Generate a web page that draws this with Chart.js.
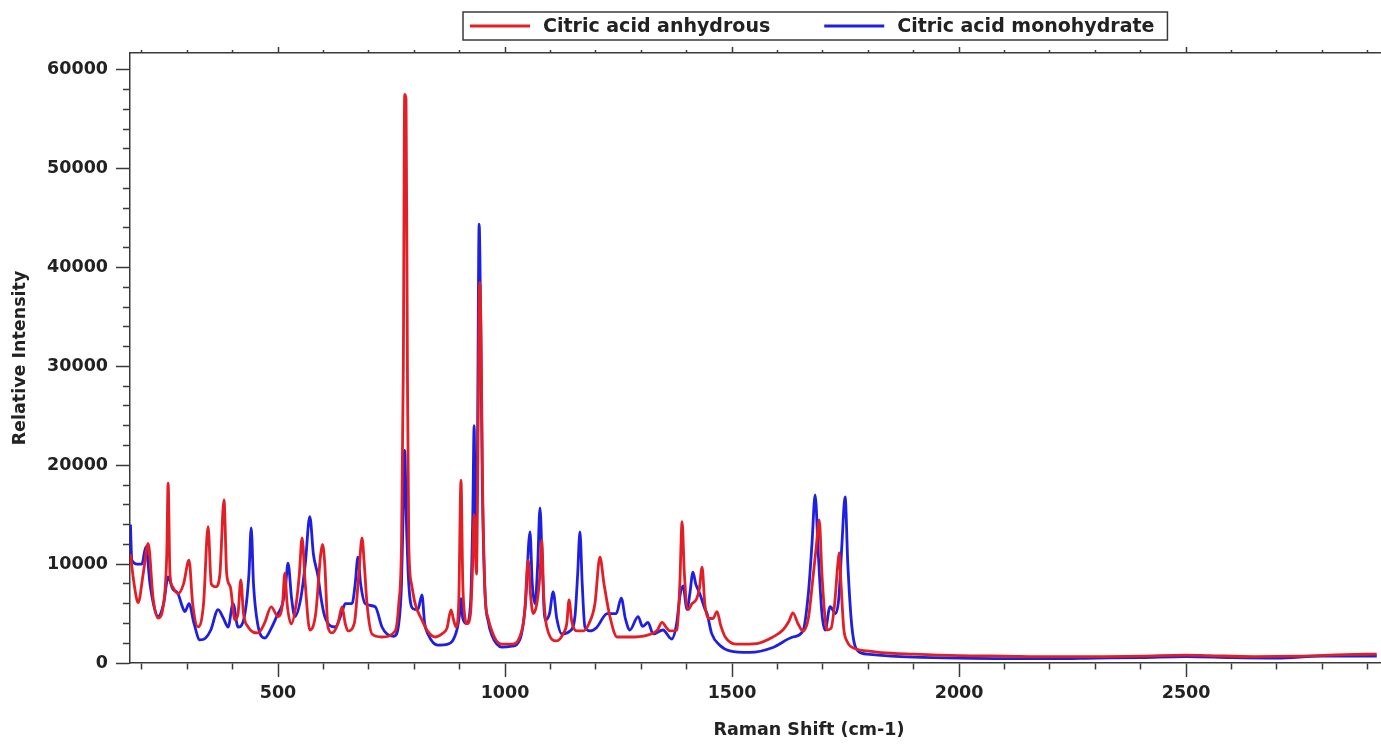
<!DOCTYPE html>
<html>
<head>
<meta charset="utf-8">
<script src="https://cdn.jsdelivr.net/npm/chart.js@4.4.1/dist/chart.umd.min.js"></script>
<style>
  html, body { margin: 0; padding: 0; background: #fff; overflow: hidden; }
  #wrap { width: 1500px; height: 745px; }
</style>
</head>
<body>
<div id="wrap"><canvas id="raman" width="1500" height="745"></canvas></div>
<script>
// Series names
const anhydrousLabel = 'Citric acid anhydrous';
const monohydrateLabel = 'Citric acid monohydrate';

// Anhydrous spectrum: Raman shift (cm-1) and relative intensity
const anhydrousShift = [
  175, 183, 192, 203, 214, 225, 236, 248, 255, 258,
  262, 268, 280, 292, 304, 312, 324, 336, 346, 353,
  363, 372, 381, 387, 395, 405, 412, 418, 424, 434,
  456, 470, 485, 500, 510, 515, 520, 529, 540, 547,
  553, 560, 570, 583, 594, 598, 603, 610, 619, 632,
  641, 648, 654, 668, 678, 685, 690, 696, 707, 729,
  758, 766, 772, 776, 779, 782, 785, 788, 794, 802,
  817, 830, 846, 861, 872, 881, 887, 892, 898, 903,
  907, 912, 916, 924, 928, 932, 937, 941, 944, 947,
  950, 956, 963, 971, 982, 993, 1015, 1033, 1043, 1051,
  1056, 1062, 1070, 1077, 1081, 1085, 1092, 1114, 1128, 1136,
  1141, 1147, 1158, 1172, 1185, 1198, 1209, 1218, 1231, 1247,
  1275, 1312, 1335, 1346, 1355, 1363, 1379, 1385, 1390, 1395,
  1403, 1412, 1422, 1428, 1434, 1440, 1450, 1458, 1467, 1475,
  1485, 1511, 1555, 1590, 1612, 1625, 1634, 1645, 1656, 1668,
  1678, 1686, 1692, 1698, 1704, 1709, 1718, 1726, 1733, 1736,
  1740, 1746, 1753, 1775, 1797, 1830, 1900, 2000, 2100, 2200,
  2300, 2400, 2500, 2550, 2650, 2750, 2850, 2920
];
const anhydrousIntensity = [
  11000, 8000, 6100, 9000, 12100, 6500, 4550, 6000, 11000, 18200,
  9000, 7700, 7000, 8000, 10400, 6000, 3650, 6000, 13800, 8000,
  7700, 9000, 16500, 9000, 7700, 4350, 5000, 8400, 5000, 3650,
  3040, 4000, 5670, 4700, 6000, 9100, 6000, 3950, 6000, 9000,
  12650, 8000, 3340, 5000, 11000, 12000, 10000, 3640, 3040, 4000,
  5670, 4000, 3240, 4000, 9000, 12650, 10000, 6000, 2930, 2630,
  3240, 6000, 12000, 30000, 57500, 57000, 30000, 12000, 8000, 6000,
  4350, 3200, 2630, 2950, 3500, 5360, 4300, 3640, 6000, 18500,
  8000, 4500, 3950, 5000, 9000, 15000, 9000, 25000, 38500, 34000,
  20000, 7000, 4500, 3240, 2200, 1900, 1900, 2700, 5000, 10400,
  7000, 5000, 6000, 9000, 12450, 7000, 3640, 2230, 2940, 4000,
  6370, 4200, 3240, 3240, 4000, 6000, 10700, 8000, 4700, 2630,
  2630, 2800, 3300, 4100, 3600, 3240, 3340, 8000, 14300, 9000,
  5400, 6000, 6500, 7500, 9700, 6000, 4500, 4500, 5200, 3800,
  2630, 1900, 1970, 2630, 3340, 4200, 5060, 4000, 3240, 4500,
  8500, 12000, 14470, 9000, 5000, 3340, 3500, 6000, 10000, 11130,
  8000, 3500, 2230, 1400, 1230, 1050, 900, 750, 700, 650,
  650, 700, 800, 750, 650, 700, 850, 900
];

// Monohydrate spectrum: Raman shift (cm-1) and relative intensity
const monohydrateShift = [
  175, 178, 190, 200, 209, 218, 228, 236, 248, 258,
  268, 280, 287, 295, 304, 315, 328, 340, 352, 368,
  380, 390, 401, 412, 425, 436, 441, 446, 455, 471,
  485, 500, 510, 517, 522, 530, 537, 550, 560, 570,
  578, 588, 595, 603, 626, 640, 648, 663, 670, 676,
  682, 692, 714, 729, 740, 755, 766, 772, 776, 779,
  783, 788, 797, 808, 817, 823, 830, 852, 874, 894,
  900, 903, 907, 915, 924, 929, 932, 935, 939, 943,
  946, 950, 956, 963, 971, 982, 993, 1015, 1033, 1045,
  1055, 1060, 1066, 1072, 1077, 1082, 1088, 1098, 1106, 1114,
  1125, 1143, 1154, 1160, 1165, 1170, 1176, 1187, 1202, 1225,
  1245, 1256, 1265, 1275, 1293, 1303, 1315, 1326, 1348, 1367,
  1378, 1385, 1392, 1401, 1407, 1414, 1420, 1429, 1440, 1445,
  1455, 1473, 1495, 1539, 1590, 1634, 1656, 1668, 1676, 1683,
  1690, 1698, 1705, 1716, 1728, 1735, 1742, 1749, 1755, 1764,
  1777, 1797, 1850, 1900, 2000, 2100, 2200, 2300, 2400, 2500,
  2600, 2700, 2800, 2920
];
const monohydrateIntensity = [
  14000, 10400, 10000, 10000, 11740, 8000, 5500, 4700, 6000, 8700,
  7500, 7000, 6000, 5200, 6000, 4000, 2330, 2500, 3340, 5400,
  4500, 3640, 6000, 3640, 4500, 9000, 13660, 8000, 4000, 2530,
  3500, 5000, 6000, 8000, 10100, 6500, 4700, 6500, 10000, 14800,
  11000, 8800, 6500, 4700, 3640, 5000, 6000, 6000, 8000, 10700,
  8000, 6000, 5700, 3640, 2940, 2700, 4000, 8000, 16000, 21500,
  14000, 8000, 5500, 5400, 6900, 4000, 2940, 1800, 1900, 3340,
  5000, 6500, 4500, 4000, 6000, 15000, 24000, 12000, 20000, 44400,
  36000, 18000, 7000, 4200, 2800, 1900, 1600, 1700, 2400, 6000,
  13260, 8000, 6000, 10000, 15700, 10000, 4350, 5000, 7200, 4500,
  2940, 3240, 4700, 9000, 13260, 8000, 3640, 3240, 3600, 5000,
  5000, 6570, 4500, 3340, 4700, 3700, 4100, 2940, 3340, 2430,
  4000, 6700, 7800, 5400, 7000, 9200, 8000, 7000, 5500, 5000,
  3000, 1800, 1230, 1070, 1570, 2630, 3240, 7000, 12000, 17000,
  11000, 5000, 3340, 5700, 5000, 6500, 12000, 16800, 10000, 3640,
  1230, 900, 700, 600, 500, 450, 450, 500, 550, 650,
  550, 500, 700, 700
];

// Axis ranges (the plot runs on past the right edge of the picture)
const shiftMin = 174;
const shiftMax = 3165;
const intensityMin = 0;
const intensityMax = 61700;

// Tick steps: labelled every major, small mark every minor
const shiftMajor = 500;
const shiftMinor = 100;
const intensityMajor = 10000;
const intensityMinor = 2000;

// Styles
const red = '#e21f26';
const blue = '#1f1fe0';
const axisColor = '#3a3a3a';
const textColor = '#222';
const fontFamily = "'DejaVu Sans', Verdana, sans-serif";

const toPoints = (xs, ys) => xs.map((x, i) => ({ x, y: ys[i] }));

// tick marks on every minor step inside [min, max]
const stepTicks = (min, max, step) => {
  const ticks = [];
  for (let v = Math.ceil(min / step) * step; v <= max; v += step) ticks.push({ value: v });
  return ticks;
};

// long mark for labelled values, short one for the rest
const tickDash = (major, tl, minorLen, outerStart) => (ctx) => {
  if (!ctx.tick || ctx.tick.value % major === 0) return [];
  return outerStart ? [0, tl - minorLen, minorLen, 200] : [minorLen, 200];
};

// Legend drawn as a framed box above the plot
const boxedLegend = {
  id: 'boxedLegend',
  afterDraw(chart, args, opts) {
    const ctx = chart.ctx;
    ctx.save();
    ctx.font = opts.font;
    const items = chart.data.datasets.map(ds => ({
      label: ds.label, color: ds.borderColor, w: ctx.measureText(ds.label).width
    }));
    let width = opts.insetLeft + opts.insetRight;
    items.forEach((it, i) => { width += opts.lineLength + opts.textGap + it.w + (i ? opts.itemGap : 0); });
    ctx.strokeStyle = axisColor;
    ctx.lineWidth = 1.5;
    ctx.strokeRect(opts.left, opts.top, width, opts.height);
    const y = opts.top + opts.height / 2;
    let x = opts.left + opts.insetLeft;
    items.forEach((it) => {
      ctx.strokeStyle = it.color;
      ctx.lineWidth = 3;
      ctx.beginPath();
      ctx.moveTo(x, y);
      ctx.lineTo(x + opts.lineLength, y);
      ctx.stroke();
      x += opts.lineLength + opts.textGap;
      ctx.fillStyle = textColor;
      ctx.textBaseline = 'middle';
      ctx.textAlign = 'left';
      ctx.fillText(it.label, x, y + 1);
      x += it.w + opts.itemGap;
    });
    ctx.restore();
  }
};

const tickFont = { family: fontFamily, size: 17.5, weight: 'bold' };

new Chart(document.getElementById('raman'), {
  type: 'line',
  data: {
    datasets: [
      {
        label: anhydrousLabel,
        data: toPoints(anhydrousShift, anhydrousIntensity),
        borderColor: red,
        backgroundColor: red,
        borderWidth: 2.8,
        pointRadius: 0,
        cubicInterpolationMode: 'monotone'
      },
      {
        label: monohydrateLabel,
        data: toPoints(monohydrateShift, monohydrateIntensity),
        borderColor: blue,
        backgroundColor: blue,
        borderWidth: 2.8,
        pointRadius: 0,
        cubicInterpolationMode: 'monotone'
      }
    ]
  },
  options: {
    responsive: false,
    animation: false,
    devicePixelRatio: 1,
    layout: { padding: { left: 10, right: 12, top: 47, bottom: 4 } },
    plugins: {
      legend: { display: false },
      tooltip: { enabled: false },
      boxedLegend: {
        left: 463, top: 12, height: 28, insetLeft: 7, insetRight: 13,
        lineLength: 60, textGap: 13, itemGap: 54,
        font: "bold 19px 'DejaVu Sans', Verdana, sans-serif"
      }
    },
    scales: {
      x: {
        type: 'linear',
        position: 'bottom',
        min: shiftMin,
        max: shiftMax,
        afterFit: (s) => { s.height = 78; },
        afterBuildTicks: (s) => { s.ticks = stepTicks(shiftMin, shiftMax, shiftMinor); },
        border: { color: axisColor, width: 1.5 },
        grid: {
          drawOnChartArea: false,
          tickLength: 14,
          tickColor: axisColor,
          tickWidth: 1.5,
          tickBorderDash: tickDash(shiftMajor, 14, 6, false)
        },
        ticks: {
          autoSkip: false,
          maxRotation: 0,
          padding: 6,
          color: textColor,
          font: tickFont,
          callback: (v) => (v % shiftMajor === 0 && v <= 2900 ? String(v) : '')
        },
        title: {
          display: true,
          text: 'Raman Shift (cm-1)',
          color: textColor,
          font: tickFont,
          padding: { top: 0, bottom: 0 }
        }
      },
      xTop: {
        type: 'linear',
        position: 'top',
        min: shiftMin,
        max: shiftMax,
        afterFit: (s) => { s.height = 6; },
        afterBuildTicks: (s) => { s.ticks = stepTicks(shiftMin, shiftMax, shiftMinor); },
        border: { color: axisColor, width: 1.5 },
        grid: {
          drawOnChartArea: false,
          tickLength: 6,
          tickColor: axisColor,
          tickWidth: 1.5,
          tickBorderDash: tickDash(shiftMajor, 6, 3, true)
        },
        ticks: { display: false, autoSkip: false }
      },
      y: {
        type: 'linear',
        min: intensityMin,
        max: intensityMax,
        afterFit: (s) => { s.width = 120; },
        afterBuildTicks: (s) => { s.ticks = stepTicks(intensityMin, intensityMax, intensityMinor); },
        border: { color: axisColor, width: 1.5 },
        grid: {
          drawOnChartArea: false,
          tickLength: 14,
          tickColor: axisColor,
          tickWidth: 1.5,
          tickBorderDash: tickDash(intensityMajor, 14, 7, true)
        },
        ticks: {
          autoSkip: false,
          padding: 8,
          color: textColor,
          font: tickFont,
          callback: (v) => (v % intensityMajor === 0 ? String(v) : '')
        },
        title: {
          display: true,
          text: 'Relative Intensity',
          color: textColor,
          font: tickFont,
          padding: { top: 0, bottom: 0 }
        }
      }
    }
  },
  plugins: [boxedLegend]
});
</script>
</body>
</html>
